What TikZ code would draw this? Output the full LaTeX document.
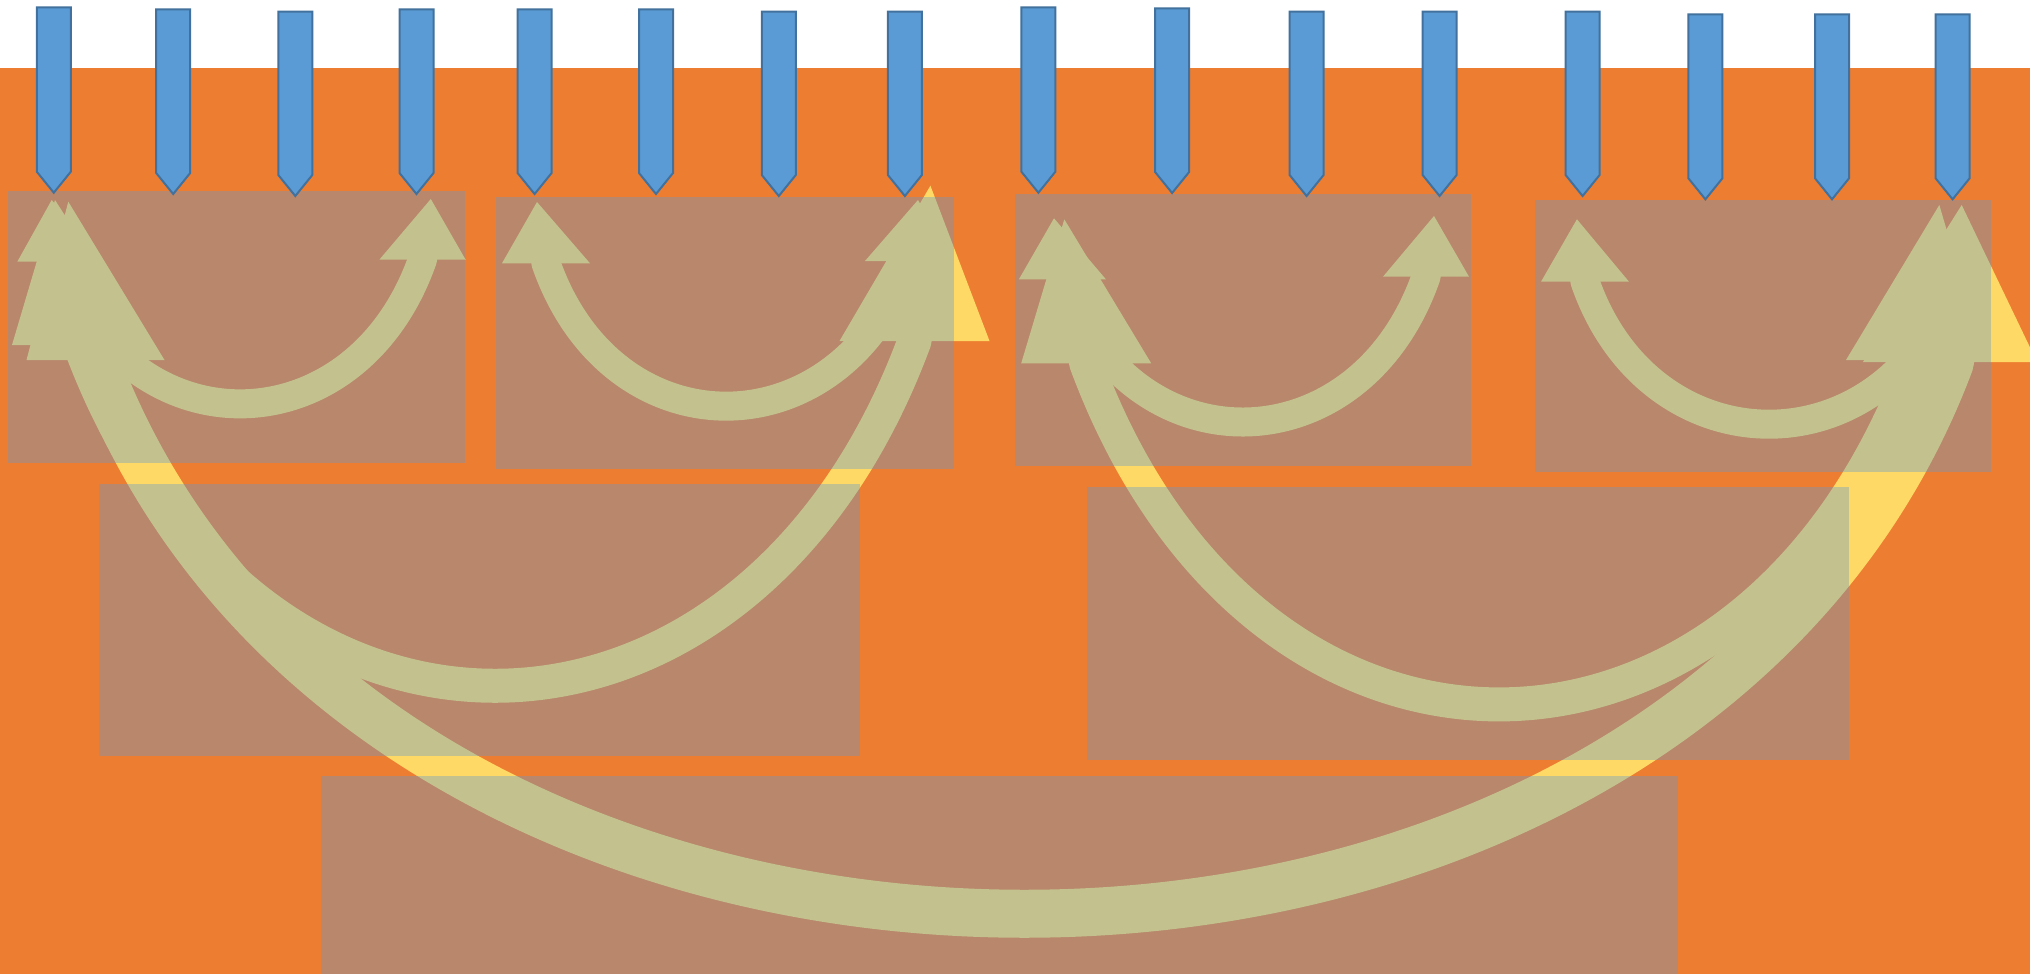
\documentclass[tikz,border=0pt]{standalone}
\usepackage{tikz}
\usetikzlibrary{calc}
\definecolor{bgorange}{HTML}{ED7D31}
\definecolor{flowyellow}{HTML}{FFD966}
\definecolor{boxblue}{HTML}{5B9BD5}
\definecolor{penedge}{HTML}{41719C}

\begin{document}
\begin{tikzpicture}[x=1pt, y=-1pt,
  zone/.style={fill=boxblue, fill opacity=0.36},
  pen/.style={fill=boxblue, draw=penedge, line width=2pt},
  flow/.style={draw=flowyellow, line cap=butt, line join=bevel}]
\useasboundingbox (0,0) rectangle (2030,974);
% Draw sky and ground
\fill[white] (0,0) rectangle (2030,68);
\fill[bgorange] (0,68) rectangle (2030,974);
% Draw flow arcs (name/left tip/left base/half width/right base/right tip/half width/band/depth/spread)
\foreach \n/\tl/\bl/\hl/\br/\tr/\hr/\w/\h/\dx in {
  s1/{51.7,200}/{60.3,261.7}/43/{422.5,259.5}/{430.8,199}/43/29/191/67,
  s2/{537,202}/{546,263.3}/44/{909,261}/{918,200}/44/29/192/67,
  s3/{1054,218.3}/{1062.4,279.3}/43.5/{1426,276.7}/{1434,216}/43/29/192/67,
  s4/{1576.9,219.3}/{1585,281.7}/44/{1953,281.7}/{1961.5,219}/44/29/190/66,
  m1/{55,200}/{80,345}/68/{914.5,341}/{930.4,185.7}/75/34/457/169,
  m2/{1064.3,219.3}/{1086.2,363.3}/65/{1915.5,360}/{1939.3,205}/69.5/34/457/169,
  b1/{68.3,201.7}/{95.5,360}/69/{1950,362}/{1961.7,205}/87/48/737/276}
{
  \coordinate (\n-tl) at (\tl);
  \coordinate (\n-bl) at (\bl);
  \coordinate (\n-br) at (\br);
  \coordinate (\n-tr) at (\tr);
  \draw[flow, line width=\w pt] ($(\n-bl)!10pt!(\n-tl)$) -- (\n-bl)
    .. controls +(\dx,\h) and +(-\dx,\h) .. (\n-br) -- ($(\n-br)!10pt!(\n-tr)$);
  % Mark heads
  \fill[flowyellow] (\n-tl) -- ($(\n-bl)+(-\hl,0)$) -- ($(\n-bl)+(\hl,0)$) -- cycle;
  \fill[flowyellow] (\n-tr) -- ($(\n-br)+(-\hr,0)$) -- ($(\n-br)+(\hr,0)$) -- cycle;
}
% Draw zones
\foreach \n/\xa/\ya/\xb/\yb in {
  z1/8/191.3/465.2/462.7, z2/496.4/197.3/953.6/468.6,
  z3/1015.2/194/1471.4/465.6, z4/1534.5/200/1991/472,
  z5/99.3/484/860/756, z6/1086.8/487/1848.7/759.7,
  z7/321.3/776.3/1677.8/974}
  \fill[zone] (\xa,\ya) rectangle (\xb,\yb);
% Draw pens
\foreach \i/\x/\top/\tip in {
  1/53.8/7.3/192.7, 2/173.2/9.3/194, 3/295.3/11.7/196, 4/416.5/9.3/194,
  5/534.6/9.3/194, 6/656/9.3/194, 7/778.8/11.7/196, 8/904.9/11.7/196,
  9/1038.4/7.3/192.7, 10/1172.1/8.3/193, 11/1306.6/11.7/196, 12/1439.6/11.7/196,
  13/1582.6/11.7/196, 14/1705.4/14.3/199.3, 15/1832/14.3/199.3, 16/1952.6/14.3/199.3}
{
  \coordinate (pen\i) at (\x,\tip);
  \draw[pen] (\x-17,\top) -- (\x+17,\top) -- (\x+17,\tip-21) -- (pen\i) -- (\x-17,\tip-21) -- cycle;
}
\end{tikzpicture}
\end{document}
